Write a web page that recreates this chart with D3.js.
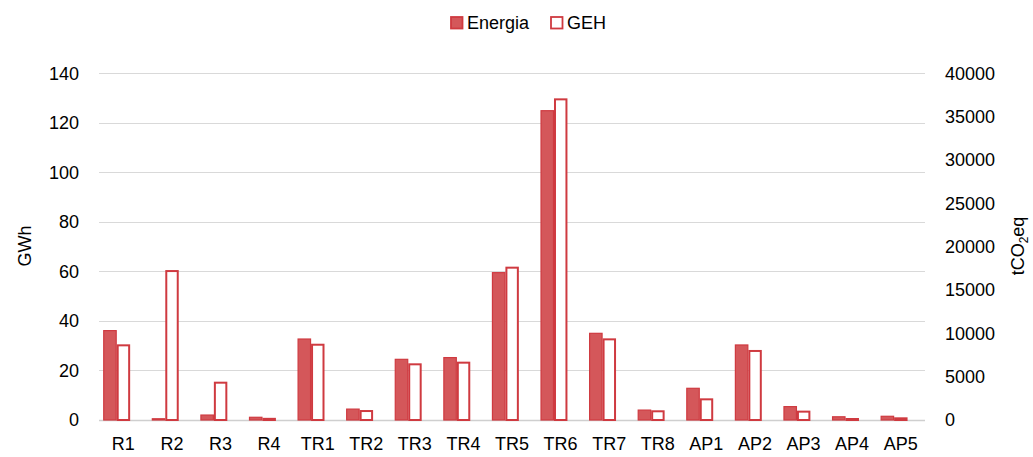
<!DOCTYPE html>
<html>
<head>
<meta charset="utf-8">
<script src="https://cdn.jsdelivr.net/npm/d3@7"></script>
<style>
  body { margin: 0; background: #fff; }
  text { font-family: "Liberation Sans", Arial, sans-serif; fill: #000; }
</style>
</head>
<body>
<script>
// data
var categories = ["R1","R2","R3","R4","TR1","TR2","TR3","TR4","TR5","TR6","TR7","TR8","AP1","AP2","AP3","AP4","AP5"];
var energia = [36.1, 0.5, 2.0, 1.1, 32.7, 4.4, 24.5, 25.2, 59.5, 124.9, 35.0, 4.0, 12.8, 30.3, 5.4, 1.3, 1.5];   // GWh
var geh = [8730, 17300, 4420, 250, 8800, 1150, 6540, 6730, 17690, 37110, 9420, 1120, 2500, 8080, 1080, 230, 310]; // tCO2eq
var leftTicks = [0, 20, 40, 60, 80, 100, 120, 140];
var rightTicks = [0, 5000, 10000, 15000, 20000, 25000, 30000, 35000, 40000];

var W = 1033, H = 457;
var plot = {left: 99, right: 925, top: 73.3, bottom: 420};
var fillCol = "#d4575a", strokeCol = "#cf3a40";

var svg = d3.select("body").append("svg")
    .attr("width", W)
    .attr("height", H);

var x = d3.scaleBand()
    .domain(categories)
    .range([plot.left, plot.right]);

var yL = d3.scaleLinear().domain([0, 140]).range([plot.bottom, plot.top]);
var yR = d3.scaleLinear().domain([0, 40000]).range([plot.bottom, plot.top]);

var barW = x.bandwidth() * 0.277;
var shift = -6.6; // bar pair sits a little left of the label in the original

// gridlines
svg.append("g")
    .selectAll("line")
    .data(leftTicks)
    .enter()
    .append("line")
    .attr("x1", plot.left)
    .attr("x2", plot.right)
    .attr("y1", function(d) { return Math.round(yL(d)) + 0.5; })
    .attr("y2", function(d) { return Math.round(yL(d)) + 0.5; })
    .attr("stroke", function(d) { return d === 0 ? "#cfcfcf" : "#d9d9d9"; })
    .attr("stroke-width", function(d) { return d === 0 ? 1.5 : 1; });

// left axis
var leftAxis = svg.append("g")
    .attr("transform", "translate(" + 79 + ",0)")
    .call(d3.axisLeft(yL).tickValues(leftTicks).tickSize(0).tickPadding(0));
leftAxis.select(".domain").remove();
leftAxis.selectAll("text").style("font-size", "18px").attr("font-family", null);

// right axis
var rightAxis = svg.append("g")
    .attr("transform", "translate(" + 945 + ",0)")
    .call(d3.axisRight(yR).tickValues(rightTicks).tickSize(0).tickPadding(0).tickFormat(d3.format("d")));
rightAxis.select(".domain").remove();
rightAxis.selectAll("text").style("font-size", "18px").attr("font-family", null);

// category labels
var bottomAxis = svg.append("g")
    .attr("transform", "translate(0," + 437 + ")")
    .call(d3.axisBottom(x).tickSize(0).tickPadding(0));
bottomAxis.select(".domain").remove();
bottomAxis.selectAll("text").style("font-size", "18px").attr("font-family", null);

// energia bars (filled)
svg.append("g")
    .selectAll("rect")
    .data(energia)
    .enter()
    .append("rect")
    .attr("x", function(d, i) { return x(categories[i]) + x.bandwidth() / 2 + shift - barW + 0.5; })
    .attr("y", function(d) { return yL(d); })
    .attr("width", barW - 1)
    .attr("height", function(d) { return yL(0) - yL(d); })
    .attr("fill", fillCol)
    .attr("stroke", strokeCol)
    .attr("stroke-width", 1.2);

// GEH bars (outline)
svg.append("g")
    .selectAll("rect")
    .data(geh)
    .enter()
    .append("rect")
    .attr("x", function(d, i) { return x(categories[i]) + x.bandwidth() / 2 + shift + 1; })
    .attr("y", function(d) { return yR(d) + 1; })
    .attr("width", barW - 2)
    .attr("height", function(d) { return Math.max(0, yR(0) - yR(d) - 1); })
    .attr("fill", "#fff")
    .attr("stroke", strokeCol)
    .attr("stroke-width", 2);

// axis titles
svg.append("text")
    .attr("transform", "translate(31,246) rotate(-90)")
    .attr("text-anchor", "middle")
    .style("font-size", "18px")
    .text("GWh");

var rt = svg.append("text")
    .attr("transform", "translate(1024,246) rotate(-90)")
    .attr("text-anchor", "middle")
    .style("font-size", "18px");
rt.append("tspan").text("tCO");
rt.append("tspan").attr("dy", 4).style("font-size", "12px").text("2");
rt.append("tspan").attr("dy", -4).text("eq");

// legend
var legend = [
  {name: "Energia", x: 450, fill: fillCol},
  {name: "GEH", x: 550, fill: "#fff"}
];
var lg = svg.append("g").selectAll("g")
    .data(legend)
    .enter()
    .append("g");
lg.append("rect")
    .attr("x", function(d) { return d.x + 1; })
    .attr("y", 17)
    .attr("width", 11.5)
    .attr("height", 11.5)
    .attr("fill", function(d) { return d.fill; })
    .attr("stroke", strokeCol)
    .attr("stroke-width", 1.8);
lg.append("text")
    .attr("x", function(d) { return d.x + 17; })
    .attr("y", 29)
    .style("font-size", "18px")
    .text(function(d) { return d.name; });
</script>
</body>
</html>
